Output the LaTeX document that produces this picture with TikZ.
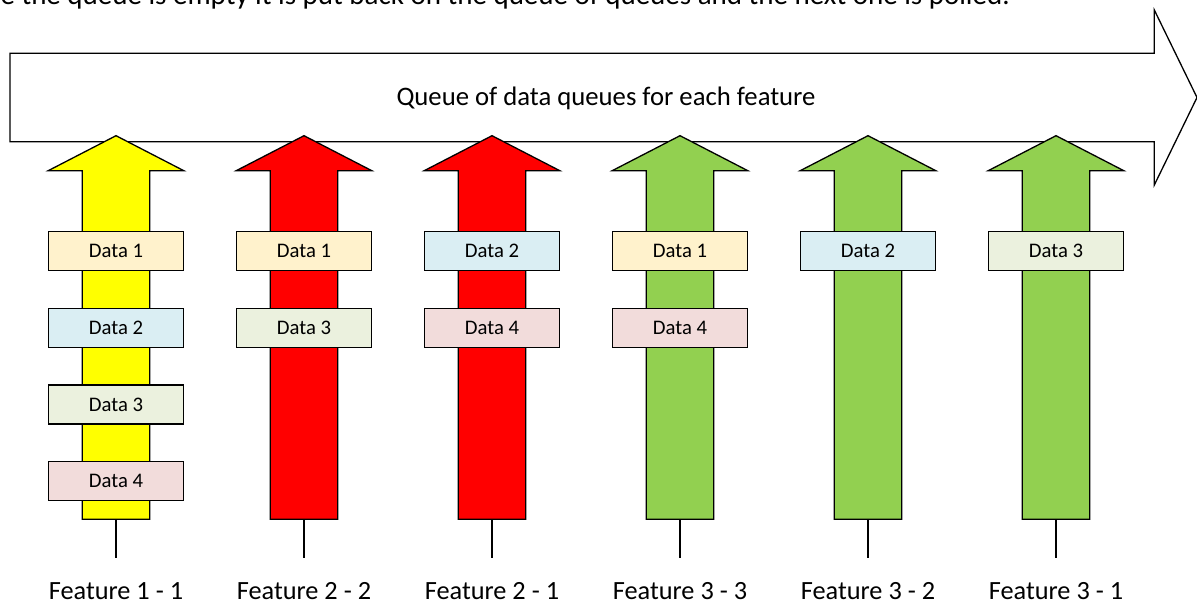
\documentclass[tikz,border=0pt]{standalone}
\usepackage{fontspec}
\setmainfont{Carlito}
\definecolor{qyellow}{HTML}{FFFF00}
\definecolor{qred}{HTML}{FF0000}
\definecolor{qgreen}{HTML}{92D050}
\definecolor{dataA}{HTML}{FFF2CC}
\definecolor{dataB}{HTML}{DAEEF3}
\definecolor{dataC}{HTML}{EBF1DE}
\definecolor{dataD}{HTML}{F2DCDB}
\begin{document}
\begin{tikzpicture}[x=1pt,y=-1pt,
  outline/.style={draw=black,line width=1.3pt,line join=miter},
  databox/.style={outline,minimum width=135.6pt,minimum height=39pt,inner sep=0pt,
    text height=13.3pt,text depth=0pt,font=\fontsize{20.7}{24}\selectfont},
  featlabel/.style={anchor=base,inner sep=0pt,font=\fontsize{26.3}{30}\selectfont},
  stem/.style={draw=black,line width=1.3pt}]
\useasboundingbox (0,0) rectangle (1197,604);
\clip (0,0) rectangle (1197,604);

% sentence running off the top edge
\node[anchor=base east,inner sep=0pt,font=\fontsize{29}{34}\selectfont] (note) at (1010,4.5)
  {e the queue is empty it is put back on the queue of queues and the next one is polled.};

% the queue of queues
\draw[outline,fill=white] (10,53.3) -- (1154.3,53.3) -- (1154.3,10) -- (1197,97.5)
  -- (1154.3,185) -- (1154.3,141.7) -- (10,141.7) -- cycle;
\node[anchor=base,inner sep=0pt,font=\fontsize{26.7}{30}\selectfont] (qlabel) at (606,106)
  {Queue of data queues for each feature};

% one upward arrow per feature queue
\foreach \i/\x/\col/\txt in {1/116/qyellow/Feature 1 - 1, 2/304/qred/Feature 2 - 2,
    3/492/qred/Feature 2 - 1, 4/680/qgreen/Feature 3 - 3, 5/868/qgreen/Feature 3 - 2,
    6/1056/qgreen/Feature 3 - 1}{
  \draw[outline,fill=\col] (\x,135.7) -- (\x+67.8,170.7) -- (\x+33.8,170.7) -- (\x+33.8,519.3)
    -- (\x-33.8,519.3) -- (\x-33.8,170.7) -- (\x-67.8,170.7) -- cycle;
  \coordinate (foot-\i) at (\x,519.3);
  \coordinate (tail-\i) at (\x,558);
  \draw[stem] (foot-\i) -- (tail-\i);
  \node[featlabel] (feat-\i) at (\x,599) {\txt};
}

% data items waiting in each queue
\foreach \i/\x/\r/\col/\txt in {
    1/116/1/dataA/Data 1, 1/116/2/dataB/Data 2, 1/116/3/dataC/Data 3, 1/116/4/dataD/Data 4,
    2/304/1/dataA/Data 1, 2/304/2/dataC/Data 3,
    3/492/1/dataB/Data 2, 3/492/2/dataD/Data 4,
    4/680/1/dataA/Data 1, 4/680/2/dataD/Data 4,
    5/868/1/dataB/Data 2,
    6/1056/1/dataC/Data 3}{
  \node[databox,fill=\col] (data-\i-\r) at (\x,{251.2+76.6*(\r-1)}) {\txt};
}
\end{tikzpicture}
\end{document}
